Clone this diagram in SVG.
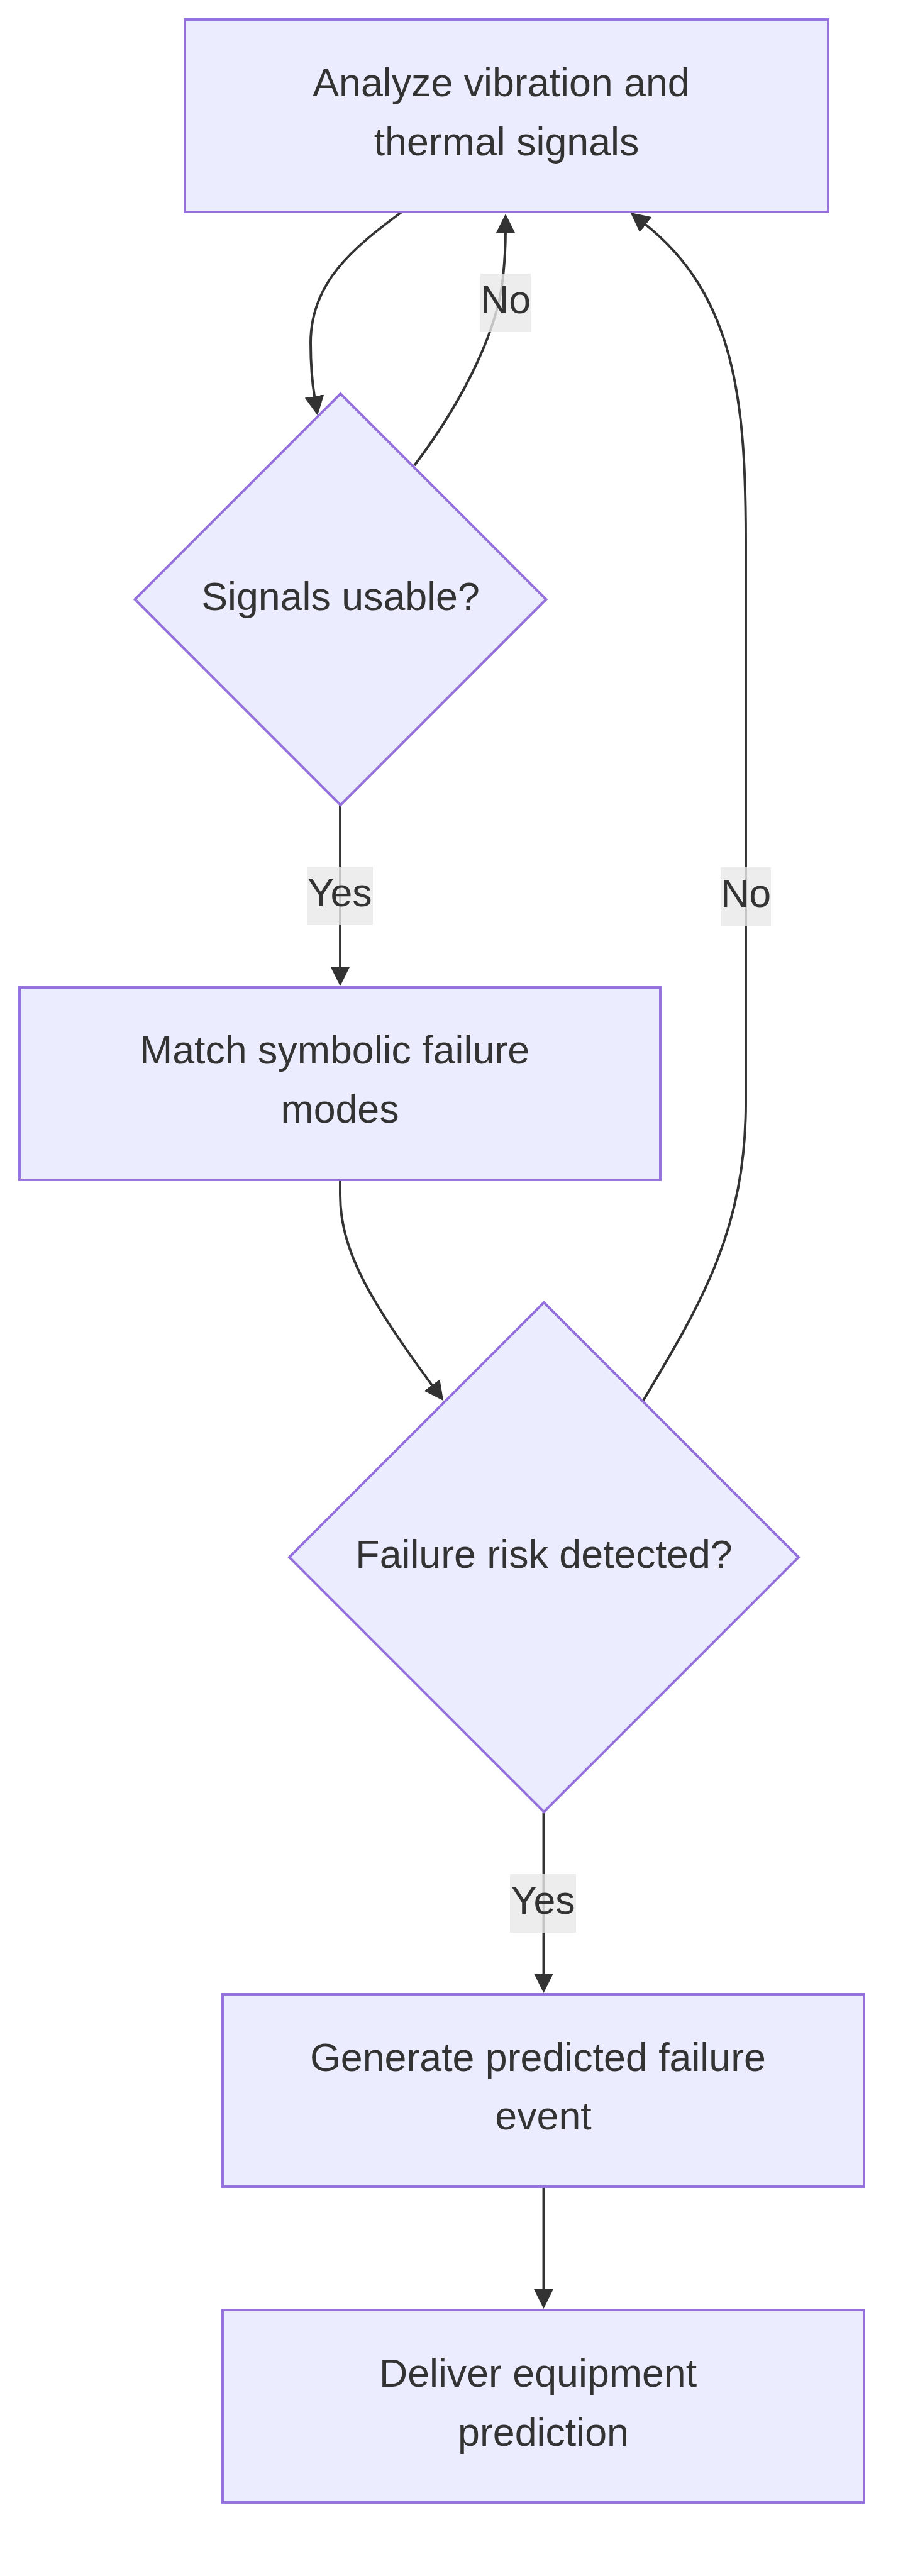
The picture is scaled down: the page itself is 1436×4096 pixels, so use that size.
<svg xmlns="http://www.w3.org/2000/svg" width="1436" height="4096" viewBox="0 0 1436 4096">
<style>
.node rect, .node polygon { fill: #ECECFF; stroke: #9370DB; stroke-width: 3.9; }
.node text, .lbl text { font-family: "Liberation Sans", Arial, sans-serif; font-size: 62.7px; fill: #333333; text-anchor: middle; }
.edge { fill: none; stroke: #333333; stroke-width: 3.9; }
.lbl rect { fill: #e8e8e8; fill-opacity: 0.8; }
</style>
<defs>
<marker id="arrow" viewBox="0 0 10 10" refX="1" refY="5" markerUnits="userSpaceOnUse" markerWidth="31" markerHeight="31" orient="auto">
<path d="M0,0 L10,5 L0,10 z" fill="#333333"/>
</marker>
</defs>
<rect width="1436" height="4096" fill="#ffffff"/>
<g id="connectors">
<path class="edge" d="M639,337 C560,395 494,450 494,545 C494,590 497,612 500.5,633" marker-end="url(#arrow)"/>
<path class="edge" d="M659,740 C720,660 790,540 800,440 C803,410 804,390 804,368" marker-end="url(#arrow)"/>
<path class="edge" d="M541,1279 L541,1540" marker-end="url(#arrow)"/>
<path class="edge" d="M541,1876 L541,1900 C541,1990 590,2070 688.7,2204.8" marker-end="url(#arrow)"/>
<path class="edge" d="M1023,2227 C1110,2080 1186,1960 1186,1754 L1186,860 C1186,640 1170,470 1024.5,355.3" marker-end="url(#arrow)"/>
<path class="edge" d="M864.5,2882 L864.5,3141" marker-end="url(#arrow)"/>
<path class="edge" d="M864.5,3477 L864.5,3643" marker-end="url(#arrow)"/>
</g>
<g id="edge-labels">
<g class="lbl" id="label-no-1"><rect x="764" y="435" width="80" height="93"/><text x="804" y="498">No</text></g>
<g class="lbl" id="label-yes-1"><rect x="488" y="1378" width="105" height="93"/><text x="540.5" y="1441">Yes</text></g>
<g class="lbl" id="label-no-2"><rect x="1146" y="1379" width="80" height="93"/><text x="1186" y="1442">No</text></g>
<g class="lbl" id="label-yes-2"><rect x="811" y="2980" width="105" height="93"/><text x="863.5" y="3043">Yes</text></g>
</g>
<g class="node" id="analyze">
<rect x="294" y="31" width="1023" height="306"/>
<text x="797" y="153">Analyze vibration and</text>
<text x="805.5" y="247">thermal signals</text>
</g>
<g class="node" id="signals-usable">
<polygon points="541.5,626 868.5,953 541.5,1280 214.5,953"/>
<text x="541.5" y="970">Signals usable?</text>
</g>
<g class="node" id="match">
<rect x="31" y="1570" width="1019" height="306"/>
<text x="532" y="1691">Match symbolic failure</text>
<text x="540.5" y="1785">modes</text>
</g>
<g class="node" id="failure-risk">
<polygon points="865,2071 1270,2476 865,2881 460,2476"/>
<text x="865" y="2493">Failure risk detected?</text>
</g>
<g class="node" id="generate">
<rect x="354" y="3171" width="1020" height="306"/>
<text x="855.5" y="3293">Generate predicted failure</text>
<text x="864" y="3386">event</text>
</g>
<g class="node" id="deliver">
<rect x="354" y="3673" width="1020" height="306"/>
<text x="855.5" y="3795">Deliver equipment</text>
<text x="864" y="3889">prediction</text>
</g>
</svg>
